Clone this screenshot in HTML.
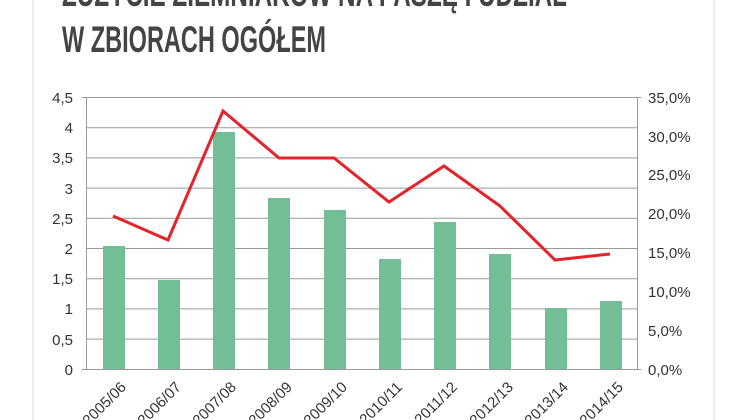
<!DOCTYPE html>
<html><head><meta charset="utf-8"><style>
html,body{margin:0;padding:0;background:#fff;width:748px;height:420px;overflow:hidden}
svg{display:block}
</style></head><body>
<svg width="748" height="420" xmlns="http://www.w3.org/2000/svg" font-family="Liberation Sans, sans-serif">
<rect x="33" y="-5" width="681" height="430" fill="none" stroke="#ddd" stroke-width="1"/>
<text x="62" y="6" font-family="Liberation Sans Narrow, Liberation Sans, sans-serif" font-weight="bold" font-size="37" fill="#444" textLength="505" lengthAdjust="spacingAndGlyphs">ZUŻYCIE ZIEMNIAKÓW NA PASZĘ I UDZIAŁ</text>
<text x="62" y="52" font-family="Liberation Sans Narrow, Liberation Sans, sans-serif" font-weight="bold" font-size="37" fill="#444" textLength="264" lengthAdjust="spacingAndGlyphs">W ZBIORACH OGÓŁEM</text>
<g stroke="#999" stroke-width="1">
<line x1="86" y1="97.5" x2="637" y2="97.5"/><line x1="86" y1="127.7" x2="637" y2="127.7"/>
<line x1="86" y1="157.9" x2="637" y2="157.9"/><line x1="86" y1="188.1" x2="637" y2="188.1"/>
<line x1="86" y1="218.3" x2="637" y2="218.3"/><line x1="86" y1="248.5" x2="637" y2="248.5"/>
<line x1="86" y1="278.7" x2="637" y2="278.7"/><line x1="86" y1="308.9" x2="637" y2="308.9"/>
<line x1="86" y1="339.1" x2="637" y2="339.1"/><line x1="82" y1="369.5" x2="641" y2="369.5"/>
<line x1="86.5" y1="97" x2="86.5" y2="369"/><line x1="637.5" y1="97" x2="637.5" y2="369"/>
<line x1="82" y1="97.5" x2="86" y2="97.5"/><line x1="637" y1="97.5" x2="641" y2="97.5"/>
</g>
<g fill="#72bf95">
<rect x="103" y="246" width="22" height="123"/>
<rect x="158" y="280" width="22" height="89"/>
<rect x="213" y="132" width="22" height="237"/>
<rect x="268" y="198" width="22" height="171"/>
<rect x="324" y="210" width="22" height="159"/>
<rect x="379" y="259" width="22" height="110"/>
<rect x="434" y="222" width="22" height="147"/>
<rect x="489" y="254" width="22" height="115"/>
<rect x="545" y="308" width="22" height="61"/>
<rect x="600" y="301" width="22" height="68"/>
</g>
<polyline points="113,216 168,240 223,111 279,158 334,158 389,202 444,166 500,206 555,260 610,254" fill="none" stroke="#e3242b" stroke-width="3" stroke-linejoin="miter"/>
<g font-size="15" fill="#333" text-anchor="end">
<text x="73" y="103">4,5</text><text x="73" y="133">4</text><text x="73" y="163">3,5</text>
<text x="73" y="194">3</text><text x="73" y="224">2,5</text><text x="73" y="254">2</text>
<text x="73" y="284">1,5</text><text x="73" y="314">1</text><text x="73" y="345">0,5</text>
<text x="73" y="375">0</text>
</g>
<g font-size="15" fill="#333">
<text x="648" y="103">35,0%</text><text x="648" y="142">30,0%</text><text x="648" y="180">25,0%</text>
<text x="648" y="219">20,0%</text><text x="648" y="258">15,0%</text><text x="648" y="297">10,0%</text>
<text x="648" y="336">5,0%</text><text x="648" y="375">0,0%</text>
</g>
<g font-size="15" fill="#333" text-anchor="end">
<text transform="translate(127,388) rotate(-45)">2005/06</text>
<text transform="translate(182,388) rotate(-45)">2006/07</text>
<text transform="translate(237,388) rotate(-45)">2007/08</text>
<text transform="translate(293,388) rotate(-45)">2008/09</text>
<text transform="translate(348,388) rotate(-45)">2009/10</text>
<text transform="translate(403,388) rotate(-45)">2010/11</text>
<text transform="translate(458,388) rotate(-45)">2011/12</text>
<text transform="translate(514,388) rotate(-45)">2012/13</text>
<text transform="translate(569,388) rotate(-45)">2013/14</text>
<text transform="translate(624,388) rotate(-45)">2014/15</text>
</g>
</svg>
</body></html>
